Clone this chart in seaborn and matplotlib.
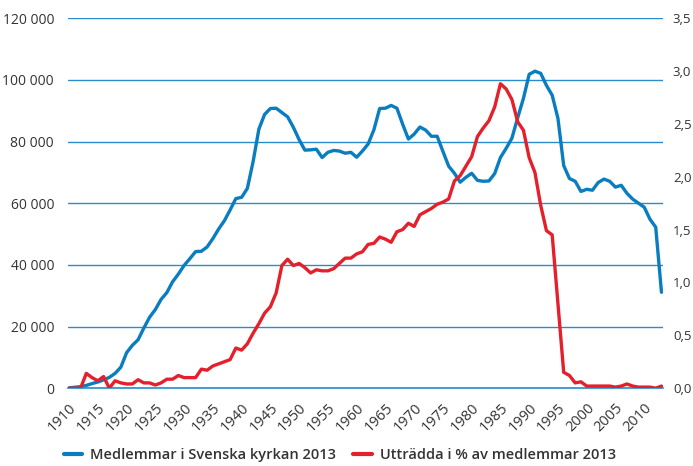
import numpy as np
import pandas as pd
import seaborn as sns
import matplotlib.pyplot as plt
from matplotlib.lines import Line2D
from matplotlib.ticker import FuncFormatter, MultipleLocator

# Data: birth year, members of Svenska kyrkan 2013, left church in % of members
years = list(range(1910, 2014))

members = [
    100, 300, 500, 900, 1500, 2000, 2700, 3500, 4800, 6800,
    11500, 13900, 15700, 19500, 23000, 25500, 28800, 31000, 34500, 37000,
    39800, 42000, 44300, 44400, 45800, 48500, 51600, 54300, 57800, 61500,
    61900, 64800, 73500, 84000, 88800, 90700, 90800, 89400, 88000, 84600,
    80600, 77200, 77300, 77500, 74800, 76500, 77100, 76900, 76200, 76500,
    74900, 76900, 79200, 83800, 90700, 90800, 91700, 90800, 85600, 80800,
    82400, 84700, 83700, 81700, 81700, 76800, 72000, 69700, 66800, 68400,
    69700, 67400, 67100, 67200, 69600, 74800, 77800, 81100, 87700, 94000,
    101800, 102800, 102100, 98200, 95000, 87500, 72200, 68000, 67100, 63800,
    64500, 64200, 66700, 67800, 67100, 65200, 65800, 63200, 61300, 60000,
    58700, 54800, 52200, 31100,
]

left_pct = [
    0.0, 0.0, 0.0, 0.14, 0.10, 0.07, 0.11, 0.0, 0.07, 0.05,
    0.04, 0.04, 0.08, 0.05, 0.05, 0.03, 0.05, 0.085, 0.085, 0.12,
    0.10, 0.10, 0.10, 0.18, 0.17, 0.21, 0.23, 0.25, 0.27, 0.38,
    0.36, 0.42, 0.52, 0.61, 0.71, 0.77, 0.90, 1.16, 1.22, 1.16,
    1.18, 1.14, 1.09, 1.12, 1.11, 1.11, 1.13, 1.18, 1.23, 1.23,
    1.27, 1.29, 1.36, 1.37, 1.43, 1.41, 1.38, 1.48, 1.50, 1.56,
    1.53, 1.64, 1.67, 1.70, 1.74, 1.76, 1.79, 1.96, 2.01, 2.10,
    2.19, 2.38, 2.46, 2.53, 2.66, 2.88, 2.83, 2.73, 2.52, 2.44,
    2.18, 2.04, 1.73, 1.49, 1.45, 0.80, 0.15, 0.12, 0.05, 0.06,
    0.02, 0.02, 0.02, 0.02, 0.02, 0.01, 0.02, 0.04, 0.02, 0.01,
    0.01, 0.01, 0.0, 0.02,
]

label_members = "Medlemmar i Svenska kyrkan 2013"
label_left = "Utträdda i % av medlemmar 2013"

df = pd.DataFrame({"year": years, "members": members, "left_pct": left_pct})

blue = "#0a7dc1"
red = "#e3202b"
grid_blue = "#2a8ccb"
text_col = "#333333"

sns.set_style("white")
plt.rcParams["font.family"] = ["Open Sans", "DejaVu Sans"]

fig = plt.figure(figsize=(6.93, 4.66), dpi=100)
ax = fig.add_axes([0.098, 0.167, 0.859, 0.794])
ax2 = ax.twinx()

# gridlines (left axis scale)
ax.set_ylim(0, 120000)
ax.yaxis.set_major_locator(MultipleLocator(20000))
ax.grid(axis="y", color=grid_blue, linewidth=1.0)
ax.grid(axis="x", visible=False)
ax.set_axisbelow(True)

sns.lineplot(data=df, x="year", y="members", ax=ax, color=blue, linewidth=2.4)
sns.lineplot(data=df, x="year", y="left_pct", ax=ax2, color=red, linewidth=2.4)

ax2.set_ylim(0, 3.5)
ax2.yaxis.set_major_locator(MultipleLocator(0.5))
ax2.grid(False)

ax.set_xlim(1909.8, 2013.3)
ax.xaxis.set_major_locator(MultipleLocator(5))
ax.xaxis.set_minor_locator(MultipleLocator(1))

for a in (ax, ax2):
    for s in a.spines.values():
        s.set_visible(False)
    a.set_xlabel("")
    a.set_ylabel("")
ax.spines["bottom"].set_visible(True)
ax.spines["bottom"].set_color(grid_blue)
ax.spines["bottom"].set_linewidth(1.2)

# number formats: space as thousands separator, comma as decimal mark
ax.yaxis.set_major_formatter(FuncFormatter(lambda v, p: f"{int(v):,}".replace(",", " ")))
ax2.yaxis.set_major_formatter(FuncFormatter(lambda v, p: f"{v:.1f}".replace(".", ",")))

ax.tick_params(axis="y", length=0, pad=10, labelsize=10, labelcolor=text_col)
ax2.tick_params(axis="y", length=0, pad=7, labelsize=9.5, labelcolor=text_col)
ax.tick_params(axis="x", which="both", direction="out", length=4, width=0.8,
               color=grid_blue, labelsize=10.5, labelcolor=text_col, pad=5)
for lab in ax.get_xticklabels():
    lab.set_rotation(45)
    lab.set_ha("right")
    lab.set_rotation_mode("anchor")

# legend below the chart
handles = [Line2D([0], [0], color=blue, lw=3), Line2D([0], [0], color=red, lw=3)]
fig.legend(handles, [label_members, label_left], loc="center", bbox_to_anchor=(0.49, 0.024),
           ncol=2, frameon=False, handlelength=1.3, columnspacing=1.2, handletextpad=0.5,
           prop={"size": 10.5, "weight": "semibold"}, labelcolor=text_col)

fig.savefig("out.png", dpi=100)
